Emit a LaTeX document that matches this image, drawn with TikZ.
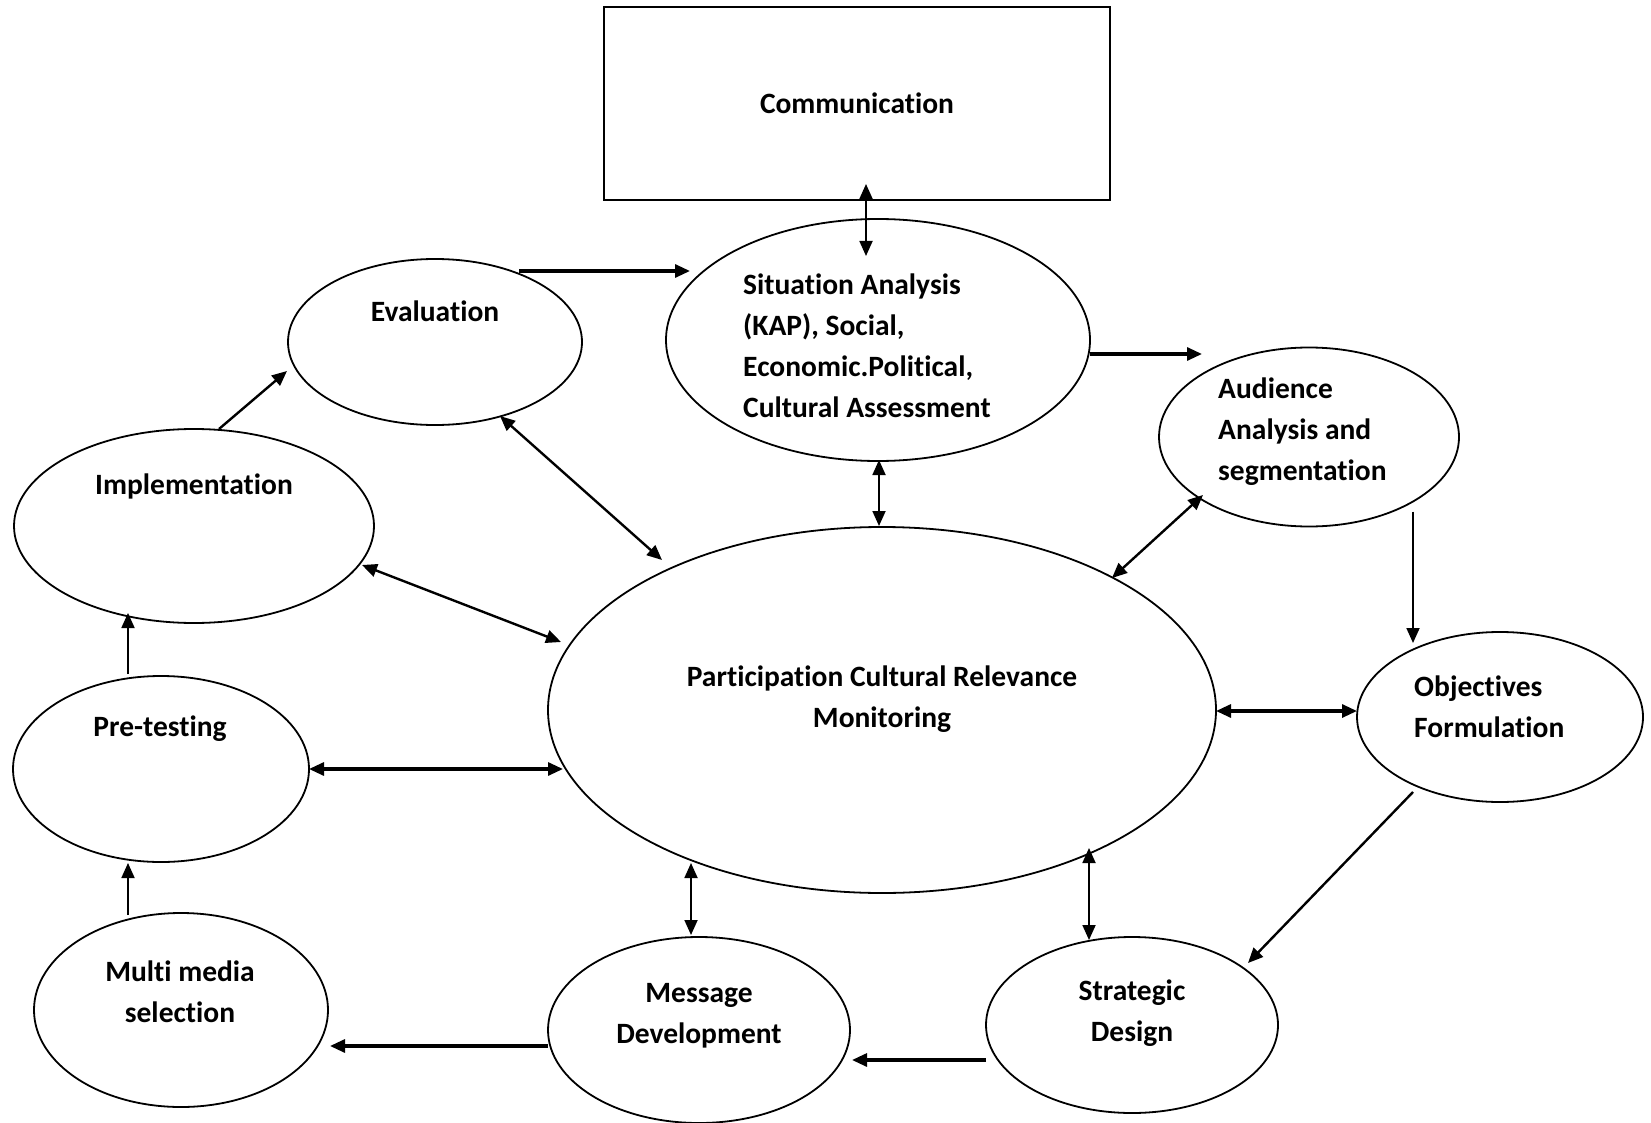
\documentclass[tikz,border=0pt]{standalone}
\usepackage{fontspec}
\setmainfont{Carlito}[Ligatures=NoCommon]
\usetikzlibrary{shapes.geometric,arrows.meta,calc}

\begin{document}
\begin{tikzpicture}
          [x=1pt,y=-1pt,
           every node/.style={font=\bfseries\fontsize{29.5}{41}\selectfont, inner sep=0pt},
           oval/.style={draw, ellipse, line width=1.8pt, outer sep=0pt},
           box/.style={draw, rectangle, line width=1.8pt, outer sep=0pt},
           lnthin/.style={line width=1.8pt},
           lnmid/.style={line width=2.4pt},
           lnthick/.style={line width=3.1pt},
           arr/.style={-{Triangle[length=15pt,width=13pt]}},
           darr/.style={{Triangle[length=15pt,width=13pt]}-{Triangle[length=15pt,width=13pt]}}]
        \useasboundingbox (0,0) rectangle (1651,1123);

        % boxes and ovals
        \node[box, minimum width=506, minimum height=193] (comm) at (857,103.5) {Communication};
        \node[oval, minimum width=294, minimum height=166] (eval) at (435,342) {};
        \node[oval, minimum width=424, minimum height=242] (sit) at (878,340) {};
        \node[oval, minimum width=300, minimum height=179] (aud) at (1309,437) {};
        \node[oval, minimum width=360, minimum height=194] (impl) at (194,526) {};
        \node[oval, minimum width=668, minimum height=366] (cen) at (882,710) {};
        \node[oval, minimum width=286, minimum height=170] (obj) at (1500,717) {};
        \node[oval, minimum width=296, minimum height=186] (pre) at (161,769) {};
        \node[oval, minimum width=294, minimum height=194] (multi) at (181,1010) {};
        \node[oval, minimum width=302, minimum height=186] (msg) at (699,1030) {};
        \node[oval, minimum width=292, minimum height=176] (strat) at (1132,1025) {};

        % texts
        \node (evaltxt) at (435,311) {Evaluation};
        \node[anchor=west, align=left] (sittxt) at (743,345.5) {Situation Analysis\\(KAP), Social,\\Economic.Political,\\Cultural Assessment};
        \node[anchor=west, align=left] (audtxt) at (1218,431.5) {Audience\\Analysis and\\segmentation};
        \node (impltxt) at (194,486) {Implementation};
        \node[align=center] (centxt) at (882,699) {Participation Cultural Relevance\\Monitoring};
        \node[anchor=west, align=left] (objtxt) at (1414,707) {Objectives\\Formulation};
        \node (pretxt) at (160,729) {Pre-testing};
        \node[align=center] (multitxt) at (180,991.5) {Multi media\\selection};
        \node[align=center] (msgtxt) at (699,1015.5) {Message\\Development};
        \node[align=center] (strattxt) at (1132,1013) {Strategic\\Design};

        % cycle
        \draw[lnthick, arr] ($(eval)+(84,-71)$) -- ($(sit)+(-188,-69)$);
        \draw[lnthick, arr] ($(sit.east)+(0,14)$) -- ($(aud)+(-107,-83)$);
        \draw[lnthin, arr] ($(aud.south)+(104,-15)$) -- ($(obj.north)+(-87,11)$);
        \draw[lnmid, arr] ($(obj)+(-87,75)$) -- ($(strat)+(116,-62)$);
        \draw[lnthick, arr] ($(strat)+(-146,35)$) -- ($(msg)+(153,30)$);
        \draw[lnthick, arr] ($(msg)+(-151,16)$) -- ($(multi)+(149,36)$);
        \draw[lnthin, arr] ($(multi.north)+(-53,2)$) -- ($(pre.south)+(-33,1)$);
        \draw[lnthin, arr] ($(pre.north)+(-33,-2)$) -- ($(impl.south)+(-66,-10)$);
        \draw[lnmid, arr] ($(impl)+(25,-97)$) -- ($(eval)+(-148,29)$);

        % links to the centre
        \draw[lnthin, darr] ($(comm.south)+(9,-16)$) -- ($(sit.north)+(-12,37)$);
        \draw[lnmid, darr] ($(eval)+(65,74)$) -- ($(cen)+(-220,-150)$);
        \draw[lnmid, darr] ($(impl)+(168,39)$) -- ($(cen)+(-321,-68)$);
        \draw[lnthick, darr] ($(pre)+(148,0)$) -- ($(cen)+(-319,59)$);
        \draw[lnthin, darr] ($(sit.south)+(1,-1)$) -- ($(cen.north)+(-3,-1)$);
        \draw[lnmid, darr] ($(aud)+(-106,58)$) -- ($(cen)+(230,-132)$);
        \draw[lnthick, darr] ($(cen.east)+(0,1)$) -- ($(obj.west)+(0,-6)$);
        \draw[lnthin, darr] ($(cen)+(-191,153)$) -- ($(msg.north)+(-8,-2)$);
        \draw[lnthin, darr] ($(cen)+(207,138)$) -- ($(strat.north)+(-43,3)$);
      \end{tikzpicture}
\end{document}
